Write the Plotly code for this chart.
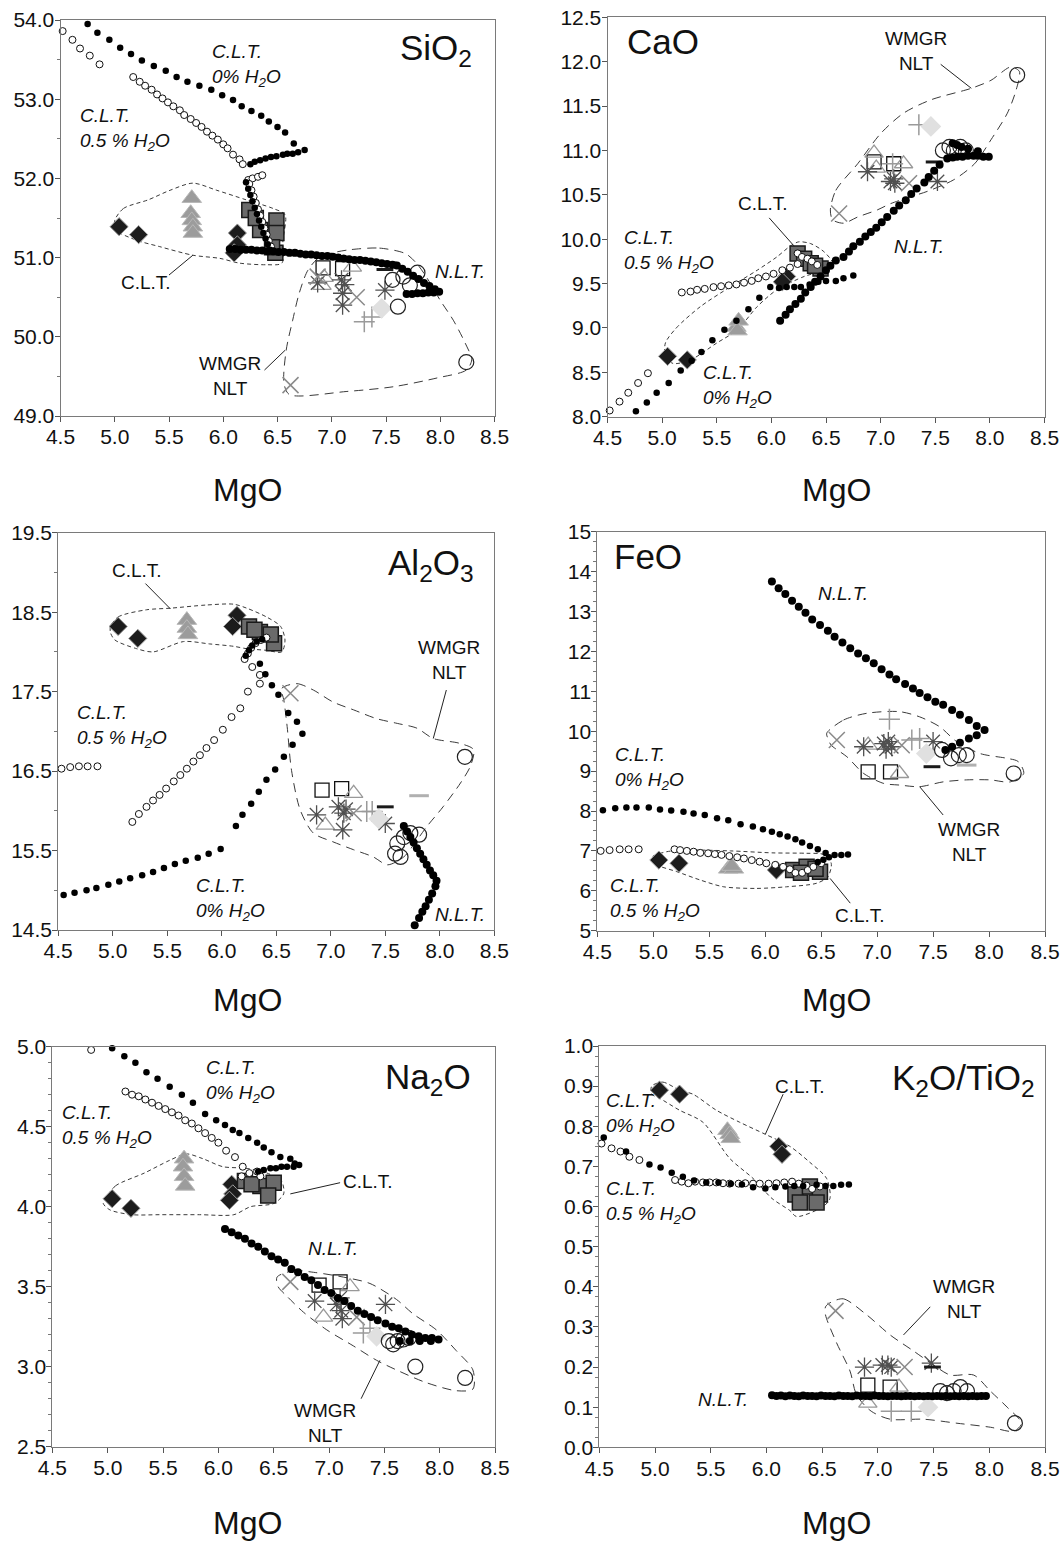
import plotly.graph_objects as go

W, H = 1061, 1543
FONT = "Liberation Sans, Arial, Helvetica, sans-serif"

# ---------------------------------------------------------------- SiO2
SIO2_CLT_DIAMOND = [(5.04, 51.39), (5.22, 51.29), (6.13, 51.31), (6.13, 51.16), (6.10, 51.06)]
SIO2_CLT_TRIANGLE = [(5.71, 51.75), (5.70, 51.56), (5.71, 51.47), (5.72, 51.39), (5.72, 51.31)]
SIO2_CLT_SQUARE = [(6.24, 51.60), (6.34, 51.35), (6.49, 51.47), (6.49, 51.31), (6.48, 51.06), (6.45, 51.13), (6.30, 51.50)]
SIO2_NLT_OPEN_SQUARE = [(6.92, 50.87), (7.10, 50.86)]
SIO2_NLT_OPEN_TRIANGLE = [(6.91, 50.65), (7.19, 50.88), (6.93, 50.75)]
SIO2_NLT_ASTERISK = [(6.87, 50.68), (7.09, 50.72), (7.10, 50.55), (7.10, 50.40), (7.49, 50.59), (7.12, 50.66)]
SIO2_NLT_X = [(7.23, 50.50), (6.62, 49.39), (6.87, 50.76)]
SIO2_NLT_PLUS = [(7.30, 50.19), (7.37, 50.25)]
SIO2_NLT_PALE_DIAMOND = [(7.46, 50.36)]
SIO2_NLT_DASH = [(7.52, 50.93), (7.49, 50.85)]
SIO2_NLT_CIRCLE = [(7.56, 50.72), (7.61, 50.38), (7.66, 50.76), (7.72, 50.65), (7.79, 50.81), (8.24, 49.68)]
SIO2_MODEL_0 = [(4.75, 53.95), (4.84, 53.84), (4.95, 53.75), (5.05, 53.65), (5.15, 53.57), (5.25, 53.49),
                (5.36, 53.42), (5.47, 53.36), (5.57, 53.28), (5.67, 53.22), (5.78, 53.17), (5.89, 53.12),
                (5.99, 53.05), (6.09, 52.99), (6.17, 52.91), (6.26, 52.85), (6.35, 52.79), (6.42, 52.72),
                (6.50, 52.65), (6.57, 52.58), (6.65, 52.44), (6.75, 52.36), (6.69, 52.33), (6.64, 52.31),
                (6.59, 52.31), (6.55, 52.30), (6.49, 52.28), (6.44, 52.27), (6.39, 52.25), (6.34, 52.23),
                (6.29, 52.21), (6.25, 52.18), (6.21, 51.95), (6.23, 51.87), (6.25, 51.79), (6.27, 51.71),
                (6.29, 51.63), (6.31, 51.55), (6.33, 51.47), (6.35, 51.39), (6.37, 51.31), (6.39, 51.24),
                (6.41, 51.17), (6.43, 51.10)]
SIO2_MODEL_05 = [(4.52, 53.86), (4.61, 53.75), (4.68, 53.64), (4.77, 53.55), (4.86, 53.44),
                 (5.17, 53.28), (5.23, 53.22), (5.28, 53.17), (5.34, 53.12), (5.39, 53.06), (5.44, 53.01),
                 (5.49, 52.96), (5.54, 52.91), (5.60, 52.86), (5.64, 52.80), (5.70, 52.75), (5.75, 52.70),
                 (5.80, 52.65), (5.85, 52.59), (5.90, 52.54), (5.95, 52.49), (6.00, 52.43), (6.04, 52.38),
                 (6.09, 52.30), (6.15, 52.24), (6.18, 52.18), (6.23, 51.98), (6.27, 52.00), (6.32, 52.02),
                 (6.36, 52.04), (6.24, 51.93), (6.26, 51.85), (6.28, 51.77), (6.30, 51.69), (6.32, 51.61),
                 (6.34, 51.53), (6.36, 51.45), (6.38, 51.37), (6.40, 51.29), (6.42, 51.21), (6.44, 51.14)]
SIO2_MODEL_NLT = [(6.06, 51.11), (6.11, 51.11), (6.16, 51.10), (6.21, 51.10), (6.26, 51.10), (6.31, 51.09),
                  (6.36, 51.09), (6.41, 51.08), (6.46, 51.08), (6.51, 51.07), (6.56, 51.07), (6.61, 51.06),
                  (6.66, 51.06), (6.71, 51.05), (6.76, 51.04), (6.81, 51.04), (6.86, 51.03), (6.91, 51.02),
                  (6.96, 51.02), (7.01, 51.01), (7.06, 51.00), (7.11, 50.99), (7.16, 50.98), (7.21, 50.97),
                  (7.26, 50.97), (7.31, 50.96), (7.36, 50.95), (7.41, 50.94), (7.46, 50.93), (7.51, 50.92),
                  (7.56, 50.91), (7.60, 50.90), (7.65, 50.86), (7.70, 50.82), (7.75, 50.77), (7.80, 50.73),
                  (7.85, 50.68), (7.90, 50.64), (7.95, 50.60), (7.99, 50.57), (7.94, 50.56), (7.89, 50.56),
                  (7.84, 50.55), (7.79, 50.55), (7.74, 50.54), (7.69, 50.54)]
SIO2_ENV_CLT = [(5.00, 51.47), (5.08, 51.62), (5.31, 51.73), (5.51, 51.85), (5.72, 51.94), (5.94, 51.85),
                (6.21, 51.73), (6.46, 51.62), (6.57, 51.54), (6.55, 51.22), (6.54, 50.93), (6.40, 50.91),
                (6.15, 50.93), (5.97, 50.99), (5.72, 51.03), (5.41, 51.14), (5.20, 51.22), (5.01, 51.35)]
SIO2_ENV_NLT = [(7.17, 51.10), (7.44, 51.12), (7.68, 51.05), (7.78, 50.93), (7.87, 50.76), (8.00, 50.46),
                (8.12, 50.21), (8.23, 49.92), (8.29, 49.71), (8.24, 49.58), (7.97, 49.48), (7.57, 49.37),
                (7.14, 49.31), (6.61, 49.27), (6.56, 49.41), (6.58, 49.83), (6.64, 50.21), (6.70, 50.55),
                (6.78, 50.84), (6.89, 51.01), (7.04, 51.07)]

# ---------------------------------------------------------------- CaO
CAO_CLT_DIAMOND = [(5.05, 8.68), (5.23, 8.64), (6.14, 9.58), (6.10, 9.52)]
CAO_CLT_TRIANGLE = [(5.68, 9.01), (5.70, 9.08), (5.69, 8.97)]
CAO_CLT_SQUARE = [(6.24, 9.84), (6.30, 9.78), (6.36, 9.73), (6.45, 9.67), (6.40, 9.70)]
CAO_NLT_OPEN_SQUARE = [(6.94, 10.87), (7.12, 10.85)]
CAO_NLT_OPEN_TRIANGLE = [(6.94, 10.97), (7.21, 10.85), (6.96, 10.80)]
CAO_NLT_ASTERISK = [(6.88, 10.76), (7.09, 10.65), (7.12, 10.68), (7.13, 10.63), (7.52, 10.65)]
CAO_NLT_X = [(6.62, 10.29), (7.26, 10.63)]
CAO_NLT_PLUS = [(7.35, 11.29), (7.11, 10.85)]
CAO_NLT_PALE_DIAMOND = [(7.46, 11.27)]
CAO_NLT_DASH = [(7.49, 10.87)]
CAO_NLT_CIRCLE = [(7.57, 11.00), (7.63, 11.04), (7.67, 11.00), (7.73, 11.04), (7.78, 11.00), (8.25, 11.85)]
CAO_MODEL_0 = [(4.76, 8.06), (4.86, 8.16), (4.95, 8.27), (5.06, 8.38), (5.17, 8.52), (5.27, 8.63),
               (5.36, 8.73), (5.46, 8.86), (5.57, 8.98), (5.68, 9.08), (5.79, 9.21), (5.89, 9.34),
               (5.99, 9.46), (6.07, 9.45), (6.14, 9.46), (6.21, 9.46), (6.27, 9.46), (6.35, 9.49),
               (6.43, 9.52), (6.50, 9.53), (6.59, 9.53), (6.66, 9.56), (6.75, 9.59)]
CAO_MODEL_05 = [(4.52, 8.07), (4.61, 8.17), (4.69, 8.27), (4.78, 8.38), (4.87, 8.49),
                (5.18, 9.40), (5.26, 9.41), (5.32, 9.43), (5.39, 9.44), (5.47, 9.46), (5.54, 9.47),
                (5.61, 9.48), (5.68, 9.49), (5.75, 9.51), (5.82, 9.53), (5.88, 9.56), (5.95, 9.58),
                (6.02, 9.61), (6.10, 9.65), (6.17, 9.68), (6.24, 9.72), (6.24, 9.84), (6.28, 9.80),
                (6.33, 9.78), (6.37, 9.75), (6.42, 9.71)]
CAO_MODEL_NLT = [(6.08, 9.08), (6.13, 9.15), (6.17, 9.21), (6.22, 9.27), (6.27, 9.33), (6.31, 9.40),
                 (6.36, 9.46), (6.40, 9.52), (6.45, 9.58), (6.50, 9.65), (6.54, 9.70), (6.59, 9.76),
                 (6.66, 9.80), (6.71, 9.86), (6.75, 9.92), (6.81, 9.97), (6.86, 10.03), (6.91, 10.08),
                 (6.96, 10.13), (7.01, 10.19), (7.06, 10.25), (7.12, 10.32), (7.17, 10.38), (7.23, 10.44),
                 (7.28, 10.51), (7.33, 10.57), (7.40, 10.64), (7.44, 10.70), (7.49, 10.77), (7.54, 10.84),
                 (7.61, 10.91), (7.66, 10.92), (7.70, 10.93), (7.75, 10.93), (7.80, 10.94), (7.85, 10.94),
                 (7.89, 10.94), (7.94, 10.93), (7.99, 10.93), (7.89, 10.99), (7.80, 11.02), (7.74, 11.04),
                 (7.70, 11.06), (7.66, 11.08)]
CAO_ENV_CLT = [(5.03, 8.83), (5.13, 9.00), (5.35, 9.24), (5.62, 9.46), (5.87, 9.65), (6.05, 9.80),
               (6.17, 9.92), (6.25, 9.97), (6.36, 9.95), (6.48, 9.86), (6.56, 9.73), (6.48, 9.65),
               (6.30, 9.58), (6.05, 9.43), (5.87, 9.24), (5.69, 8.98), (5.50, 8.83), (5.26, 8.64),
               (5.10, 8.60), (5.03, 8.68)]
CAO_ENV_NLT = [(6.54, 10.33), (6.59, 10.55), (6.79, 10.85), (7.00, 11.19), (7.21, 11.42), (7.46, 11.57),
               (7.83, 11.70), (8.01, 11.79), (8.19, 11.94), (8.27, 11.89), (8.24, 11.68), (8.16, 11.42),
               (8.01, 11.12), (7.86, 10.85), (7.67, 10.67), (7.43, 10.54), (7.28, 10.48), (7.09, 10.40),
               (6.97, 10.33), (6.79, 10.25), (6.66, 10.18), (6.56, 10.22)]

# ---------------------------------------------------------------- Al2O3
AL_CLT_DIAMOND = [(5.05, 18.32), (5.23, 18.17), (6.14, 18.46), (6.10, 18.32)]
AL_CLT_TRIANGLE = [(5.68, 18.40), (5.68, 18.30), (5.69, 18.22)]
AL_CLT_SQUARE = [(6.25, 18.32), (6.35, 18.25), (6.48, 18.11), (6.45, 18.22), (6.30, 18.28)]
AL_NLT_OPEN_SQUARE = [(6.92, 16.26), (7.10, 16.28)]
AL_NLT_OPEN_TRIANGLE = [(7.21, 16.22), (6.95, 15.82)]
AL_NLT_ASTERISK = [(6.87, 15.95), (7.07, 16.05), (7.12, 15.97), (7.11, 15.76), (7.50, 15.84), (7.14, 16.02)]
AL_NLT_X = [(6.63, 17.48), (7.21, 15.97)]
AL_NLT_PLUS = [(7.33, 15.99), (7.38, 15.99)]
AL_NLT_PALE_DIAMOND = [(7.44, 15.90)]
AL_NLT_DASH = [(7.50, 16.05)]
AL_NLT_PALE_DASH = [(7.81, 16.19)]
AL_NLT_CIRCLE = [(7.61, 15.59), (7.59, 15.46), (7.67, 15.67), (7.73, 15.72), (7.81, 15.70), (7.64, 15.42), (8.23, 16.68)]
AL_MODEL_0 = [(4.55, 14.94), (4.65, 14.97), (4.76, 15.00), (4.85, 15.03), (4.96, 15.07), (5.06, 15.11),
              (5.16, 15.15), (5.27, 15.19), (5.37, 15.23), (5.47, 15.28), (5.57, 15.33), (5.67, 15.37),
              (5.78, 15.41), (5.88, 15.46), (5.99, 15.52), (6.13, 15.81), (6.19, 15.95), (6.27, 16.09),
              (6.34, 16.24), (6.41, 16.39), (6.49, 16.52), (6.57, 16.68), (6.65, 16.83), (6.74, 16.97),
              (6.69, 17.12), (6.61, 17.23), (6.52, 17.46), (6.46, 17.58), (6.40, 17.72), (6.35, 17.85),
              (6.22, 17.95), (6.25, 18.02), (6.28, 18.08), (6.32, 18.13), (6.37, 18.16)]
AL_MODEL_05 = [(4.53, 16.53), (4.61, 16.55), (4.69, 16.56), (4.77, 16.56), (4.86, 16.56),
               (5.18, 15.86), (5.24, 15.96), (5.31, 16.05), (5.37, 16.13), (5.43, 16.20), (5.49, 16.28),
               (5.56, 16.37), (5.62, 16.45), (5.68, 16.53), (5.74, 16.62), (5.80, 16.70), (5.86, 16.79),
               (5.93, 16.89), (6.01, 17.02), (6.09, 17.18), (6.17, 17.29), (6.24, 17.50), (6.35, 17.60),
               (6.35, 17.71), (6.28, 17.81), (6.21, 17.91), (6.24, 17.98), (6.27, 18.05), (6.31, 18.11),
               (6.36, 18.15), (6.41, 18.18)]
AL_MODEL_NLT = [(7.67, 15.81), (7.70, 15.74), (7.73, 15.67), (7.76, 15.60), (7.79, 15.53), (7.82, 15.46),
                (7.85, 15.39), (7.88, 15.32), (7.91, 15.25), (7.94, 15.19), (7.97, 15.12), (7.96, 15.05),
                (7.93, 14.96), (7.90, 14.88), (7.87, 14.80), (7.84, 14.73), (7.81, 14.65), (7.77, 14.56)]
AL_ENV_CLT = [(4.98, 18.32), (5.05, 18.44), (5.31, 18.53), (5.53, 18.55), (5.86, 18.59), (6.11, 18.60),
              (6.23, 18.55), (6.41, 18.44), (6.54, 18.32), (6.58, 18.15), (6.55, 18.00), (6.41, 18.02),
              (6.23, 18.04), (6.11, 18.07), (5.89, 18.10), (5.65, 18.13), (5.37, 18.00), (5.22, 18.04),
              (5.02, 18.15), (4.98, 18.24)]
AL_ENV_NLT = [(6.55, 17.54), (6.69, 17.60), (6.84, 17.52), (7.02, 17.37), (7.21, 17.27), (7.42, 17.16),
              (7.61, 17.10), (7.79, 17.04), (7.94, 16.91), (8.18, 16.85), (8.31, 16.77), (8.28, 16.56),
              (8.19, 16.35), (8.03, 16.05), (7.88, 15.80), (7.79, 15.63), (7.67, 15.42), (7.52, 15.32),
              (7.39, 15.42), (7.21, 15.51), (7.02, 15.61), (6.84, 15.72), (6.72, 16.01), (6.64, 16.51),
              (6.60, 17.06), (6.57, 17.39)]

# ---------------------------------------------------------------- FeO
FE_CLT_DIAMOND = [(5.05, 6.77), (5.23, 6.69), (6.10, 6.52)]
FE_CLT_TRIANGLE = [(5.67, 6.55), (5.72, 6.55), (5.70, 6.62)]
FE_CLT_SQUARE = [(6.25, 6.52), (6.37, 6.60), (6.49, 6.48), (6.32, 6.45), (6.45, 6.55)]
FE_NLT_OPEN_SQUARE = [(6.92, 8.98), (7.12, 8.98)]
FE_NLT_OPEN_TRIANGLE = [(6.92, 9.65), (7.20, 8.94)]
FE_NLT_ASTERISK = [(6.88, 9.61), (7.06, 9.69), (7.10, 9.74), (7.13, 9.61), (7.08, 9.55), (7.50, 9.74)]
FE_NLT_X = [(6.64, 9.78), (7.22, 9.65)]
FE_NLT_PLUS = [(7.11, 10.30), (7.31, 9.78), (7.38, 9.82)]
FE_NLT_PALE_DIAMOND = [(7.44, 9.44)]
FE_NLT_DASH = [(7.49, 9.11)]
FE_NLT_PALE_DASH = [(7.80, 9.15)]
FE_NLT_CIRCLE = [(7.58, 9.53), (7.66, 9.32), (7.73, 9.40), (7.80, 9.40), (8.22, 8.94)]
FE_MODEL_0 = [(4.55, 8.02), (4.66, 8.07), (4.76, 8.09), (4.85, 8.09), (4.96, 8.09), (5.06, 8.04),
              (5.16, 8.01), (5.27, 7.98), (5.36, 7.94), (5.46, 7.90), (5.57, 7.82), (5.67, 7.77),
              (5.78, 7.67), (5.89, 7.61), (5.98, 7.54), (6.06, 7.48), (6.13, 7.42), (6.20, 7.36),
              (6.27, 7.29), (6.33, 7.21), (6.40, 7.12), (6.47, 7.04), (6.54, 6.95), (6.62, 6.90),
              (6.68, 6.90), (6.74, 6.91), (6.47, 6.72), (6.52, 6.78), (6.57, 6.84)]
FE_MODEL_05 = [(4.53, 7.00), (4.61, 7.02), (4.70, 7.04), (4.78, 7.04), (4.87, 7.04),
               (5.19, 7.04), (5.24, 7.02), (5.30, 7.00), (5.36, 6.98), (5.42, 6.95), (5.49, 6.94),
               (5.55, 6.92), (5.61, 6.90), (5.68, 6.87), (5.75, 6.84), (5.81, 6.81), (5.88, 6.77),
               (5.95, 6.73), (6.01, 6.69), (6.09, 6.65), (6.16, 6.60), (6.22, 6.54), (6.27, 6.45),
               (6.33, 6.45), (6.38, 6.52), (6.43, 6.60), (6.50, 6.69)]
FE_MODEL_NLT = [(6.06, 13.75), (6.12, 13.58), (6.18, 13.44), (6.24, 13.27), (6.30, 13.12), (6.36, 12.97),
                (6.42, 12.80), (6.49, 12.66), (6.56, 12.52), (6.62, 12.37), (6.69, 12.22), (6.76, 12.08),
                (6.83, 11.95), (6.90, 11.83), (6.97, 11.70), (7.04, 11.55), (7.11, 11.42), (7.17, 11.30),
                (7.25, 11.18), (7.32, 11.07), (7.38, 10.96), (7.45, 10.85), (7.52, 10.74), (7.59, 10.66),
                (7.67, 10.53), (7.74, 10.41), (7.82, 10.28), (7.89, 10.13), (7.96, 10.03), (7.89, 9.90),
                (7.82, 9.82), (7.74, 9.71), (7.67, 9.61), (7.61, 9.53)]
FE_ENV_CLT = [(4.99, 6.85), (5.12, 6.98), (5.33, 7.02), (5.69, 7.00), (6.07, 6.95), (6.37, 6.94),
              (6.52, 6.91), (6.59, 6.69), (6.56, 6.35), (6.46, 6.19), (6.19, 6.10), (5.92, 6.06),
              (5.63, 6.10), (5.42, 6.27), (5.21, 6.48), (5.03, 6.65), (4.99, 6.77)]
FE_ENV_NLT = [(6.55, 9.95), (6.70, 10.28), (6.91, 10.45), (7.20, 10.49), (7.38, 10.36), (7.56, 10.11),
              (7.71, 9.74), (7.92, 9.44), (8.16, 9.32), (8.26, 9.24), (8.31, 8.94), (8.19, 8.73),
              (8.01, 8.78), (7.80, 8.78), (7.59, 8.73), (7.38, 8.61), (7.20, 8.65), (7.06, 8.69),
              (6.88, 8.94), (6.73, 9.36), (6.59, 9.65), (6.56, 9.82)]

# ---------------------------------------------------------------- Na2O
NA_CLT_DIAMOND = [(5.04, 4.05), (5.21, 3.99), (6.12, 4.14), (6.13, 4.08), (6.10, 4.04)]
NA_CLT_TRIANGLE = [(5.69, 4.30), (5.68, 4.25), (5.69, 4.19), (5.70, 4.13)]
NA_CLT_SQUARE = [(6.24, 4.16), (6.38, 4.13), (6.50, 4.15), (6.45, 4.07), (6.30, 4.14)]
NA_NLT_OPEN_SQUARE = [(6.91, 3.51), (7.10, 3.53)]
NA_NLT_OPEN_TRIANGLE = [(6.95, 3.31), (7.19, 3.50)]
NA_NLT_ASTERISK = [(6.87, 3.41), (7.07, 3.39), (7.11, 3.35), (7.12, 3.30), (7.51, 3.39), (7.10, 3.43)]
NA_NLT_X = [(6.65, 3.53), (7.25, 3.31)]
NA_NLT_PLUS = [(7.31, 3.21), (7.37, 3.24)]
NA_NLT_PALE_DIAMOND = [(7.43, 3.19)]
NA_NLT_CIRCLE = [(7.54, 3.16), (7.58, 3.14), (7.62, 3.16), (7.67, 3.17), (7.72, 3.18), (7.78, 3.00), (8.23, 2.93)]
NA_MODEL_0 = [(5.04, 4.99), (5.15, 4.94), (5.25, 4.90), (5.35, 4.84), (5.45, 4.80), (5.56, 4.75),
              (5.67, 4.70), (5.77, 4.65), (5.88, 4.58), (5.98, 4.54), (6.06, 4.51), (6.13, 4.48),
              (6.19, 4.46), (6.27, 4.43), (6.35, 4.40), (6.41, 4.37), (6.48, 4.34), (6.56, 4.31),
              (6.65, 4.30), (6.69, 4.27), (6.73, 4.26), (6.68, 4.25), (6.62, 4.25), (6.57, 4.25),
              (6.52, 4.24), (6.47, 4.24), (6.41, 4.23), (6.36, 4.22)]
NA_MODEL_05 = [(4.85, 4.98), (5.16, 4.72), (5.22, 4.70), (5.28, 4.69), (5.34, 4.67), (5.40, 4.65),
               (5.46, 4.63), (5.52, 4.61), (5.58, 4.59), (5.64, 4.57), (5.70, 4.54), (5.76, 4.52),
               (5.82, 4.49), (5.88, 4.46), (5.94, 4.43), (6.00, 4.40), (6.07, 4.35), (6.15, 4.31),
               (6.22, 4.25), (6.21, 4.19), (6.28, 4.21), (6.35, 4.22), (6.38, 4.19)]
NA_MODEL_NLT = [(6.06, 3.86), (6.12, 3.84), (6.18, 3.82), (6.24, 3.80), (6.30, 3.77), (6.36, 3.75),
                (6.42, 3.72), (6.48, 3.69), (6.54, 3.67), (6.60, 3.65), (6.66, 3.61), (6.72, 3.59),
                (6.78, 3.56), (6.84, 3.54), (6.90, 3.51), (6.96, 3.48), (7.02, 3.46), (7.08, 3.43),
                (7.14, 3.41), (7.20, 3.38), (7.26, 3.35), (7.32, 3.33), (7.38, 3.31), (7.44, 3.29),
                (7.51, 3.27), (7.57, 3.25), (7.63, 3.24), (7.69, 3.22), (7.75, 3.20), (7.81, 3.19),
                (7.87, 3.18), (7.93, 3.18), (7.99, 3.17), (7.92, 3.16), (7.82, 3.16), (7.73, 3.16),
                (7.64, 3.16)]
NA_ENV_CLT = [(4.98, 4.05), (5.07, 4.13), (5.33, 4.21), (5.56, 4.29), (5.71, 4.33), (5.86, 4.30),
              (6.04, 4.25), (6.25, 4.24), (6.44, 4.21), (6.57, 4.16), (6.59, 4.08), (6.50, 4.02),
              (6.29, 4.00), (6.14, 3.95), (5.83, 3.95), (5.47, 3.95), (5.22, 3.95), (5.02, 3.98),
              (4.96, 4.02)]
NA_ENV_NLT = [(6.53, 3.56), (6.68, 3.60), (6.86, 3.59), (7.13, 3.56), (7.37, 3.52), (7.61, 3.42),
              (7.76, 3.33), (7.97, 3.23), (8.15, 3.10), (8.30, 2.98), (8.30, 2.86), (8.15, 2.85),
              (7.88, 2.90), (7.64, 2.97), (7.43, 3.04), (7.22, 3.13), (6.98, 3.23), (6.77, 3.34),
              (6.62, 3.44), (6.54, 3.50)]

# ---------------------------------------------------------------- K2O/TiO2
K_CLT_DIAMOND = [(5.04, 0.89), (5.22, 0.88), (6.11, 0.75), (6.14, 0.73)]
K_CLT_TRIANGLE = [(5.65, 0.79), (5.67, 0.78), (5.68, 0.77)]
K_CLT_SQUARE = [(6.26, 0.63), (6.39, 0.65), (6.48, 0.63), (6.30, 0.61), (6.45, 0.61)]
K_NLT_OPEN_SQUARE = [(6.91, 0.155), (7.11, 0.15)]
K_NLT_OPEN_TRIANGLE = [(6.91, 0.11), (7.19, 0.15)]
K_NLT_ASTERISK = [(6.88, 0.20), (7.04, 0.205), (7.09, 0.205), (7.12, 0.20), (7.48, 0.21)]
K_NLT_X = [(6.62, 0.34), (7.24, 0.20)]
K_NLT_PLUS = [(7.12, 0.09), (7.30, 0.09)]
K_NLT_PALE_DIAMOND = [(7.45, 0.10)]
K_NLT_DASH = [(7.49, 0.20)]
K_NLT_CIRCLE = [(7.56, 0.14), (7.62, 0.135), (7.68, 0.14), (7.74, 0.15), (7.80, 0.14), (8.23, 0.06)]
K_MODEL_0 = [(4.54, 0.772), (4.74, 0.737), (4.95, 0.705), (5.05, 0.697), (5.15, 0.684), (5.25, 0.674),
             (5.35, 0.665), (5.46, 0.660), (5.57, 0.660), (5.68, 0.657), (5.78, 0.655), (5.88, 0.648),
             (5.99, 0.645), (6.08, 0.648), (6.17, 0.650), (6.25, 0.651), (6.33, 0.651), (6.45, 0.654),
             (6.53, 0.651), (6.60, 0.651), (6.67, 0.654), (6.74, 0.655)]
K_MODEL_05 = [(4.52, 0.757), (4.61, 0.745), (4.69, 0.737), (4.77, 0.724), (4.86, 0.716),
              (5.18, 0.666), (5.24, 0.662), (5.30, 0.658), (5.36, 0.662), (5.43, 0.660), (5.49, 0.660),
              (5.55, 0.660), (5.61, 0.658), (5.67, 0.657), (5.75, 0.657), (5.81, 0.658), (5.88, 0.657),
              (5.94, 0.657), (6.02, 0.657), (6.09, 0.658), (6.16, 0.660), (6.23, 0.662), (6.29, 0.657),
              (6.36, 0.652), (6.41, 0.644), (6.48, 0.650)]
K_MODEL_NLT = [(6.05, 0.130), (6.09, 0.128), (6.13, 0.129), (6.17, 0.127), (6.21, 0.129), (6.25, 0.128),
               (6.29, 0.127), (6.33, 0.129), (6.37, 0.128), (6.41, 0.128), (6.45, 0.127), (6.49, 0.129),
               (6.53, 0.128), (6.57, 0.128), (6.61, 0.127), (6.65, 0.129), (6.69, 0.128), (6.73, 0.128),
               (6.77, 0.127), (6.81, 0.129), (6.85, 0.128), (6.89, 0.128), (6.93, 0.127), (6.97, 0.129),
               (7.01, 0.128), (7.05, 0.128), (7.09, 0.127), (7.13, 0.128), (7.17, 0.128), (7.21, 0.127),
               (7.25, 0.128), (7.29, 0.128), (7.33, 0.127), (7.37, 0.128), (7.41, 0.127), (7.45, 0.128),
               (7.49, 0.127), (7.53, 0.128), (7.57, 0.127), (7.61, 0.128), (7.65, 0.127), (7.69, 0.128),
               (7.73, 0.127), (7.77, 0.128), (7.81, 0.127), (7.85, 0.128), (7.89, 0.127), (7.93, 0.128),
               (7.97, 0.128)]
K_ENV_CLT = [(4.97, 0.90), (5.07, 0.91), (5.22, 0.89), (5.34, 0.88), (5.55, 0.84), (5.76, 0.81),
             (5.99, 0.78), (6.21, 0.75), (6.39, 0.71), (6.54, 0.67), (6.57, 0.62), (6.51, 0.60),
             (6.27, 0.575), (6.21, 0.59), (6.05, 0.62), (5.88, 0.67), (5.67, 0.72), (5.43, 0.81),
             (5.22, 0.84), (5.04, 0.87), (4.97, 0.88)]
K_ENV_NLT = [(6.57, 0.36), (6.69, 0.37), (6.90, 0.33), (7.11, 0.28), (7.32, 0.24), (7.50, 0.205),
             (7.65, 0.18), (7.86, 0.18), (8.01, 0.14), (8.16, 0.10), (8.29, 0.06), (8.22, 0.04),
             (8.01, 0.05), (7.71, 0.06), (7.41, 0.07), (7.11, 0.07), (6.94, 0.09), (6.81, 0.13),
             (6.75, 0.19), (6.63, 0.26), (6.53, 0.33), (6.53, 0.35)]

MGO_TICKS = [4.5, 5.0, 5.5, 6.0, 6.5, 7.0, 7.5, 8.0, 8.5]

# ------------------------------------------------------------------ styles
MARKERS = {
    "diamond": dict(symbol="diamond", size=14, color="#1c1c1c", line=dict(color="#a0a0a0", width=1)),
    "triangle": dict(symbol="triangle-up", size=17, color="#9c9c9c", line=dict(color="#b8b8b8", width=1)),
    "square": dict(symbol="square", size=15, color="#6a6a6a", line=dict(color="#1a1a1a", width=1.5)),
    "open_square": dict(symbol="square-open", size=14, color="#111111", line=dict(color="#111111", width=1.3)),
    "open_triangle": dict(symbol="triangle-up-open", size=16, color="#999999", line=dict(color="#999999", width=1.3)),
    "asterisk": dict(symbol="asterisk-open", size=16, color="#505050", line=dict(color="#505050", width=1.3)),
    "x": dict(symbol="x-thin-open", size=16, color="#8a8a8a", line=dict(color="#8a8a8a", width=1.5)),
    "plus": dict(symbol="cross-thin-open", size=15, color="#9a9a9a", line=dict(color="#9a9a9a", width=1.5)),
    "pale_diamond": dict(symbol="diamond", size=16, color="#e0e0e0", line=dict(color="#e0e0e0", width=0)),
    "dash": dict(symbol="line-ew-open", size=12, color="#1a1a1a", line=dict(color="#1a1a1a", width=3)),
    "pale_dash": dict(symbol="line-ew-open", size=14, color="#b0b0b0", line=dict(color="#b0b0b0", width=3)),
    "circle": dict(symbol="circle-open", size=15, color="#222222", line=dict(color="#222222", width=1.2)),
    "m05": dict(symbol="circle", size=7, color="#ffffff", line=dict(color="#111111", width=1)),
    "m0": dict(symbol="circle", size=6.5, color="#000000", line=dict(width=0)),
    "mnlt": dict(symbol="circle", size=8, color="#000000", line=dict(width=0)),
}
ENV_DASH = {"clt": "4px,3px", "nlt": "9px,6px"}

PANELS = [
    dict(n=1, env=[(SIO2_ENV_CLT, "clt"), (SIO2_ENV_NLT, "nlt")],
         pts=[(SIO2_CLT_DIAMOND, "diamond"), (SIO2_CLT_TRIANGLE, "triangle"), (SIO2_CLT_SQUARE, "square"),
              (SIO2_NLT_OPEN_SQUARE, "open_square"), (SIO2_NLT_OPEN_TRIANGLE, "open_triangle"),
              (SIO2_NLT_ASTERISK, "asterisk"), (SIO2_NLT_X, "x"), (SIO2_NLT_PLUS, "plus"),
              (SIO2_NLT_PALE_DIAMOND, "pale_diamond"), (SIO2_NLT_DASH, "dash"), (SIO2_NLT_CIRCLE, "circle"),
              (SIO2_MODEL_05, "m05"), (SIO2_MODEL_0, "m0"), (SIO2_MODEL_NLT, "mnlt")]),
    dict(n=2, env=[(CAO_ENV_CLT, "clt"), (CAO_ENV_NLT, "nlt")],
         pts=[(CAO_CLT_DIAMOND, "diamond"), (CAO_CLT_TRIANGLE, "triangle"), (CAO_CLT_SQUARE, "square"),
              (CAO_NLT_OPEN_SQUARE, "open_square"), (CAO_NLT_OPEN_TRIANGLE, "open_triangle"),
              (CAO_NLT_ASTERISK, "asterisk"), (CAO_NLT_X, "x"), (CAO_NLT_PLUS, "plus"),
              (CAO_NLT_PALE_DIAMOND, "pale_diamond"), (CAO_NLT_DASH, "dash"), (CAO_NLT_CIRCLE, "circle"),
              (CAO_MODEL_05, "m05"), (CAO_MODEL_0, "m0"), (CAO_MODEL_NLT, "mnlt")]),
    dict(n=3, env=[(AL_ENV_CLT, "clt"), (AL_ENV_NLT, "nlt")],
         pts=[(AL_CLT_DIAMOND, "diamond"), (AL_CLT_TRIANGLE, "triangle"), (AL_CLT_SQUARE, "square"),
              (AL_NLT_OPEN_SQUARE, "open_square"), (AL_NLT_OPEN_TRIANGLE, "open_triangle"),
              (AL_NLT_ASTERISK, "asterisk"), (AL_NLT_X, "x"), (AL_NLT_PLUS, "plus"),
              (AL_NLT_PALE_DIAMOND, "pale_diamond"), (AL_NLT_DASH, "dash"), (AL_NLT_PALE_DASH, "pale_dash"),
              (AL_NLT_CIRCLE, "circle"), (AL_MODEL_05, "m05"), (AL_MODEL_0, "m0"), (AL_MODEL_NLT, "mnlt")]),
    dict(n=4, env=[(FE_ENV_CLT, "clt"), (FE_ENV_NLT, "nlt")],
         pts=[(FE_CLT_DIAMOND, "diamond"), (FE_CLT_TRIANGLE, "triangle"), (FE_CLT_SQUARE, "square"),
              (FE_NLT_OPEN_SQUARE, "open_square"), (FE_NLT_OPEN_TRIANGLE, "open_triangle"),
              (FE_NLT_ASTERISK, "asterisk"), (FE_NLT_X, "x"), (FE_NLT_PLUS, "plus"),
              (FE_NLT_PALE_DIAMOND, "pale_diamond"), (FE_NLT_DASH, "dash"), (FE_NLT_PALE_DASH, "pale_dash"),
              (FE_NLT_CIRCLE, "circle"), (FE_MODEL_05, "m05"), (FE_MODEL_0, "m0"), (FE_MODEL_NLT, "mnlt")]),
    dict(n=5, env=[(NA_ENV_CLT, "clt"), (NA_ENV_NLT, "nlt")],
         pts=[(NA_CLT_DIAMOND, "diamond"), (NA_CLT_TRIANGLE, "triangle"), (NA_CLT_SQUARE, "square"),
              (NA_NLT_OPEN_SQUARE, "open_square"), (NA_NLT_OPEN_TRIANGLE, "open_triangle"),
              (NA_NLT_ASTERISK, "asterisk"), (NA_NLT_X, "x"), (NA_NLT_PLUS, "plus"),
              (NA_NLT_PALE_DIAMOND, "pale_diamond"), (NA_NLT_CIRCLE, "circle"),
              (NA_MODEL_05, "m05"), (NA_MODEL_0, "m0"), (NA_MODEL_NLT, "mnlt")]),
    dict(n=6, env=[(K_ENV_CLT, "clt"), (K_ENV_NLT, "nlt")],
         pts=[(K_CLT_DIAMOND, "diamond"), (K_CLT_TRIANGLE, "triangle"), (K_CLT_SQUARE, "square"),
              (K_NLT_OPEN_SQUARE, "open_square"), (K_NLT_OPEN_TRIANGLE, "open_triangle"),
              (K_NLT_ASTERISK, "asterisk"), (K_NLT_X, "x"), (K_NLT_PLUS, "plus"),
              (K_NLT_PALE_DIAMOND, "pale_diamond"), (K_NLT_DASH, "dash"), (K_NLT_CIRCLE, "circle"),
              (K_MODEL_05, "m05"), (K_MODEL_0, "m0"), (K_MODEL_NLT, "mnlt")]),
]

# pixel boxes of the six plot areas: (left, right, top, bottom)
BOXES = {1: (60.5, 494.5, 20, 416), 2: (607.5, 1044.5, 17.3, 416.7),
         3: (58.2, 494.3, 532.7, 930), 4: (597.3, 1045, 531.7, 930.7),
         5: (52.4, 495, 1046.7, 1446.7), 6: (599.3, 1045, 1046, 1447.3)}
YAXES = {1: dict(range=[49, 54], tick0=49, dtick=1, tickformat=".1f", minor=0.5),
         2: dict(range=[8, 12.5], tick0=8, dtick=0.5, tickformat=".1f", minor=None),
         3: dict(range=[14.5, 19.5], tick0=14.5, dtick=1, tickformat=".1f", minor=0.5),
         4: dict(range=[5, 15], tick0=5, dtick=1, tickformat="d", minor=0.25),
         5: dict(range=[2.5, 5.0], tick0=2.5, dtick=0.5, tickformat=".1f", minor=0.1),
         6: dict(range=[0, 1.0], tick0=0, dtick=0.1, tickformat=".1f", minor=0.025)}


def refs(n):
    s = "" if n == 1 else str(n)
    return "x" + s, "y" + s


fig = go.Figure()

for p in PANELS:
    xr, yr = refs(p["n"])
    for env, kind in p["env"]:
        xs = [v[0] for v in env] + [env[0][0]]
        ys = [v[1] for v in env] + [env[0][1]]
        fig.add_trace(go.Scatter(x=xs, y=ys, mode="lines", xaxis=xr, yaxis=yr,
                                 line=dict(color="#3a3a3a", width=1, dash=ENV_DASH[kind],
                                           shape="spline", smoothing=0.8),
                                 showlegend=False, hoverinfo="skip"))
    for data, style in p["pts"]:
        fig.add_trace(go.Scatter(x=[v[0] for v in data], y=[v[1] for v in data], mode="markers",
                                 xaxis=xr, yaxis=yr, marker=MARKERS[style],
                                 showlegend=False, hoverinfo="skip", cliponaxis=False))

layout = dict(width=W, height=H, margin=dict(l=0, r=0, t=0, b=0, autoexpand=False),
              paper_bgcolor="white", plot_bgcolor="white",
              font=dict(family=FONT, color="#111111"), showlegend=False)

for n, (l, r, t, b) in BOXES.items():
    xk = "xaxis" if n == 1 else f"xaxis{n}"
    yk = "yaxis" if n == 1 else f"yaxis{n}"
    xr, yr = refs(n)
    common = dict(showgrid=False, zeroline=False, showline=True, linecolor="#7a7a7a", linewidth=1,
                  mirror=True, ticks="outside", ticklen=5, tickcolor="#555555", tickwidth=1,
                  automargin=False, tickfont=dict(family=FONT, size=21, color="#111111"))
    layout[xk] = dict(common, domain=[l / W, r / W], range=[4.5, 8.5], tickvals=MGO_TICKS,
                      tickformat=".1f", anchor=yr, ticklabelstandoff=-3)
    ya = YAXES[n]
    yd = dict(common, domain=[1 - b / H, 1 - t / H], range=ya["range"], tick0=ya["tick0"],
              dtick=ya["dtick"], tickformat=ya["tickformat"], anchor=xr, ticklabelstandoff=-4)
    if ya["minor"]:
        yd["minor"] = dict(dtick=ya["minor"], ticks="outside", ticklen=3, tickcolor="#777777")
    layout[yk] = yd

fig.update_layout(**layout)

ann = []
shapes = []


def text(n, x, y, s, size=19, anchor="left", italic=False):
    xr, yr = refs(n)
    if italic:
        s = "<i>" + s + "</i>"
    ann.append(dict(x=x, y=y, xref=xr, yref=yr, text=s, showarrow=False, xanchor=anchor,
                    yanchor="middle", align=anchor if anchor != "center" else "center",
                    font=dict(family=FONT, size=size, color="#111111")))


def leader(n, x0, y0, x1, y1):
    xr, yr = refs(n)
    shapes.append(dict(type="line", xref=xr, yref=yr, x0=x0, y0=y0, x1=x1, y1=y1,
                       line=dict(color="#222222", width=1)))


H2O0 = "C.L.T.<br>0% H<sub>2</sub>O"
H2O5 = "C.L.T.<br>0.5 % H<sub>2</sub>O"
WMGR = "WMGR<br>NLT"

# SiO2
text(1, 8.31, 53.62, "SiO<sub>2</sub>", size=35, anchor="right")
text(1, 5.88, 53.42, H2O0, italic=True)
text(1, 4.66, 52.62, H2O5, italic=True)
text(1, 7.93, 50.82, "N.L.T.", italic=True)
text(1, 5.29, 50.68, "C.L.T.", anchor="center")
leader(1, 5.50, 50.78, 5.72, 51.03)
text(1, 6.06, 49.50, WMGR, anchor="center")
leader(1, 6.38, 49.58, 6.57, 49.83)
# CaO
text(2, 4.66, 12.23, "CaO", size=35)
text(2, 7.32, 12.12, WMGR, anchor="center")
leader(2, 7.55, 11.97, 7.83, 11.70)
text(2, 5.92, 10.40, "C.L.T.", anchor="center")
leader(2, 5.98, 10.24, 6.21, 9.92)
text(2, 4.63, 9.86, H2O5, italic=True)
text(2, 5.36, 8.34, H2O0, italic=True)
text(2, 7.10, 9.92, "N.L.T.", italic=True)
# Al2O3
text(3, 8.33, 19.09, "Al<sub>2</sub>O<sub>3</sub>", size=35, anchor="right")
text(3, 5.22, 19.03, "C.L.T.", anchor="center")
leader(3, 5.30, 18.86, 5.53, 18.54)
text(3, 8.08, 17.90, WMGR, anchor="center")
leader(3, 8.06, 17.52, 7.94, 16.91)
text(3, 4.65, 17.06, H2O5, italic=True)
text(3, 5.75, 14.88, H2O0, italic=True)
text(3, 7.94, 14.69, "N.L.T.", italic=True)
# FeO
text(4, 4.63, 14.37, "FeO", size=35)
text(4, 6.45, 13.44, "N.L.T.", italic=True)
text(4, 4.64, 9.07, H2O0, italic=True)
text(4, 4.60, 5.77, H2O5, italic=True)
text(4, 6.85, 5.39, "C.L.T.", anchor="center")
leader(4, 6.76, 5.69, 6.58, 6.31)
text(4, 7.82, 7.23, WMGR, anchor="center")
leader(4, 7.59, 7.90, 7.38, 8.61)
# Na2O
text(5, 8.30, 4.80, "Na<sub>2</sub>O", size=35, anchor="right")
text(5, 5.87, 4.78, H2O0, italic=True)
text(5, 4.57, 4.50, H2O5, italic=True)
text(5, 7.11, 4.16, "C.L.T.")
leader(5, 7.10, 4.15, 6.65, 4.08)
text(5, 6.79, 3.74, "N.L.T.", italic=True)
text(5, 6.96, 2.65, WMGR, anchor="center")
leader(5, 7.29, 2.80, 7.46, 3.04)
# K2O/TiO2
text(6, 8.43, 0.915, "K<sub>2</sub>O/TiO<sub>2</sub>", size=35, anchor="right")
text(6, 6.30, 0.90, "C.L.T.", anchor="center")
leader(6, 6.15, 0.88, 5.99, 0.78)
text(6, 4.54, 0.83, H2O0, italic=True)
text(6, 4.54, 0.61, H2O5, italic=True)
text(6, 7.77, 0.37, WMGR, anchor="center")
leader(6, 7.47, 0.35, 7.23, 0.28)
text(6, 5.61, 0.12, "N.L.T.", italic=True, anchor="center")

# common x-axis titles
for xc, yc in [(247, 490), (836, 490), (247, 1000), (836, 1000), (247, 1523), (836, 1523)]:
    ann.append(dict(x=xc / W, y=1 - yc / H, xref="paper", yref="paper", text="MgO", showarrow=False,
                    xanchor="center", yanchor="middle", font=dict(family=FONT, size=32, color="#111111")))

fig.update_layout(annotations=ann, shapes=shapes)
fig.write_html("out.html")
